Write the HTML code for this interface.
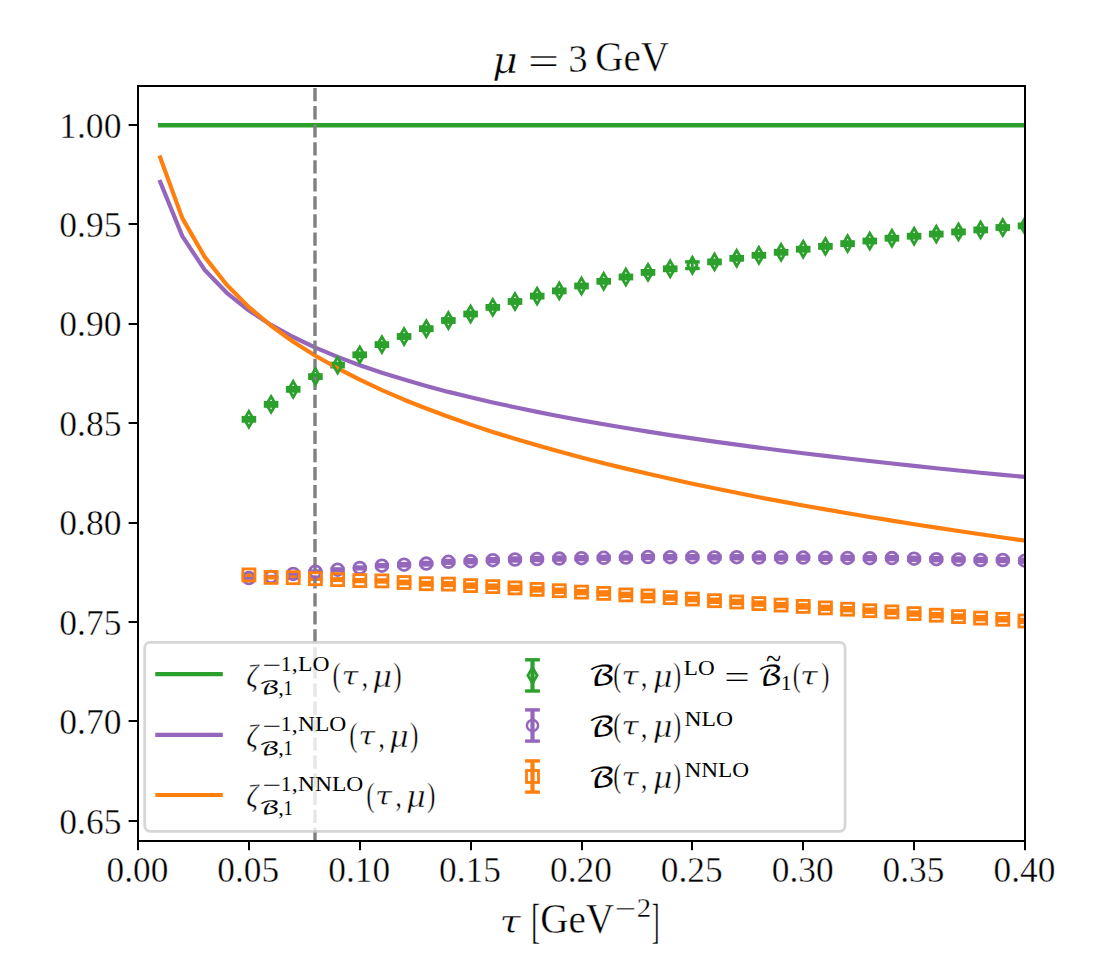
<!DOCTYPE html>
<html lang="en"><head><meta charset="utf-8"><title>zeta inverse vs flow time, mu = 3 GeV</title>
<style>html,body{margin:0;padding:0;background:#fff}svg{display:block}</style></head>
<body>
<svg width="1108" height="970" viewBox="0 0 1108 970">
<defs><clipPath id="ax"><rect x="138.0" y="86.0" width="887.0" height="755.0"/></clipPath></defs>
<rect width="1108" height="970" fill="#fff"/>
<g clip-path="url(#ax)">
<rect x="241.6" y="415.90" width="14.6" height="6.80" fill="#2ca02c"/>
<rect x="263.8" y="401.00" width="14.6" height="6.80" fill="#2ca02c"/>
<rect x="285.9" y="385.90" width="14.6" height="6.80" fill="#2ca02c"/>
<rect x="308.1" y="373.20" width="14.6" height="6.80" fill="#2ca02c"/>
<rect x="330.3" y="361.70" width="14.6" height="6.80" fill="#2ca02c"/>
<rect x="352.4" y="351.40" width="14.6" height="6.80" fill="#2ca02c"/>
<rect x="374.6" y="341.20" width="14.6" height="6.80" fill="#2ca02c"/>
<rect x="396.8" y="333.10" width="14.6" height="6.80" fill="#2ca02c"/>
<rect x="419.0" y="325.30" width="14.6" height="6.80" fill="#2ca02c"/>
<rect x="441.1" y="317.10" width="14.6" height="6.80" fill="#2ca02c"/>
<rect x="463.3" y="310.60" width="14.6" height="6.80" fill="#2ca02c"/>
<rect x="485.5" y="304.00" width="14.6" height="6.80" fill="#2ca02c"/>
<rect x="507.7" y="298.10" width="14.6" height="6.80" fill="#2ca02c"/>
<rect x="529.9" y="292.70" width="14.6" height="6.80" fill="#2ca02c"/>
<rect x="552.0" y="287.50" width="14.6" height="6.80" fill="#2ca02c"/>
<rect x="574.2" y="282.60" width="14.6" height="6.80" fill="#2ca02c"/>
<rect x="596.4" y="277.90" width="14.6" height="6.80" fill="#2ca02c"/>
<rect x="618.6" y="273.60" width="14.6" height="6.80" fill="#2ca02c"/>
<rect x="640.7" y="269.00" width="14.6" height="6.80" fill="#2ca02c"/>
<rect x="662.9" y="265.40" width="14.6" height="6.80" fill="#2ca02c"/>
<line x1="692.4" y1="261.9" x2="692.4" y2="268.5" stroke="#2ca02c" stroke-width="2.8"/><rect x="685.1" y="260.20" width="14.6" height="3.40" fill="#2ca02c"/><rect x="685.1" y="266.80" width="14.6" height="3.40" fill="#2ca02c"/>
<rect x="707.2" y="258.50" width="14.6" height="6.80" fill="#2ca02c"/>
<rect x="729.4" y="254.90" width="14.6" height="6.80" fill="#2ca02c"/>
<rect x="751.6" y="251.90" width="14.6" height="6.80" fill="#2ca02c"/>
<rect x="773.8" y="248.90" width="14.6" height="6.80" fill="#2ca02c"/>
<rect x="795.9" y="245.80" width="14.6" height="6.80" fill="#2ca02c"/>
<rect x="818.1" y="243.00" width="14.6" height="6.80" fill="#2ca02c"/>
<rect x="840.3" y="240.20" width="14.6" height="6.80" fill="#2ca02c"/>
<rect x="862.5" y="237.60" width="14.6" height="6.80" fill="#2ca02c"/>
<rect x="884.6" y="234.80" width="14.6" height="6.80" fill="#2ca02c"/>
<rect x="906.8" y="232.80" width="14.6" height="6.80" fill="#2ca02c"/>
<rect x="929.0" y="230.70" width="14.6" height="6.80" fill="#2ca02c"/>
<rect x="951.2" y="228.50" width="14.6" height="6.80" fill="#2ca02c"/>
<rect x="973.4" y="226.50" width="14.6" height="6.80" fill="#2ca02c"/>
<rect x="995.5" y="224.10" width="14.6" height="6.80" fill="#2ca02c"/>
<rect x="1017.7" y="222.50" width="14.6" height="6.80" fill="#2ca02c"/>
<rect x="241.9" y="576.05" width="14.0" height="4.00" fill="#9467bd"/>
<rect x="264.1" y="574.79" width="14.0" height="4.24" fill="#9467bd"/>
<rect x="286.2" y="571.62" width="14.0" height="4.48" fill="#9467bd"/>
<rect x="308.4" y="569.36" width="14.0" height="4.72" fill="#9467bd"/>
<rect x="330.6" y="567.20" width="14.0" height="4.96" fill="#9467bd"/>
<rect x="352.8" y="565.34" width="14.0" height="5.20" fill="#9467bd"/>
<rect x="374.9" y="562.96" width="14.0" height="5.44" fill="#9467bd"/>
<rect x="397.1" y="561.91" width="14.0" height="5.68" fill="#9467bd"/>
<rect x="419.3" y="560.69" width="14.0" height="5.92" fill="#9467bd"/>
<rect x="441.4" y="558.75" width="14.0" height="6.16" fill="#9467bd"/>
<rect x="463.6" y="557.98" width="14.0" height="6.40" fill="#9467bd"/>
<rect x="485.8" y="556.95" width="14.0" height="6.40" fill="#9467bd"/>
<rect x="508.0" y="556.29" width="14.0" height="6.40" fill="#9467bd"/>
<rect x="530.1" y="555.84" width="14.0" height="6.40" fill="#9467bd"/>
<rect x="552.3" y="555.36" width="14.0" height="6.40" fill="#9467bd"/>
<rect x="574.5" y="554.97" width="14.0" height="6.40" fill="#9467bd"/>
<rect x="596.7" y="554.58" width="14.0" height="6.40" fill="#9467bd"/>
<rect x="618.9" y="554.40" width="14.0" height="6.40" fill="#9467bd"/>
<rect x="641.0" y="553.82" width="14.0" height="6.40" fill="#9467bd"/>
<rect x="663.2" y="553.97" width="14.0" height="6.40" fill="#9467bd"/>
<rect x="685.4" y="554.01" width="14.0" height="6.40" fill="#9467bd"/>
<rect x="707.5" y="554.19" width="14.0" height="6.40" fill="#9467bd"/>
<rect x="729.7" y="554.03" width="14.0" height="6.40" fill="#9467bd"/>
<rect x="751.9" y="554.28" width="14.0" height="6.40" fill="#9467bd"/>
<rect x="774.1" y="554.44" width="14.0" height="6.40" fill="#9467bd"/>
<rect x="796.2" y="554.45" width="14.0" height="6.40" fill="#9467bd"/>
<rect x="818.4" y="554.63" width="14.0" height="6.40" fill="#9467bd"/>
<rect x="840.6" y="554.74" width="14.0" height="6.40" fill="#9467bd"/>
<rect x="862.8" y="554.96" width="14.0" height="6.40" fill="#9467bd"/>
<rect x="884.9" y="554.95" width="14.0" height="6.40" fill="#9467bd"/>
<rect x="907.1" y="555.54" width="14.0" height="6.40" fill="#9467bd"/>
<rect x="929.3" y="556.00" width="14.0" height="6.40" fill="#9467bd"/>
<rect x="951.5" y="556.32" width="14.0" height="6.40" fill="#9467bd"/>
<rect x="973.6" y="556.76" width="14.0" height="6.40" fill="#9467bd"/>
<rect x="995.8" y="556.82" width="14.0" height="6.40" fill="#9467bd"/>
<rect x="1018.0" y="557.49" width="14.0" height="6.40" fill="#9467bd"/>
<rect x="241.7" y="572.93" width="14.4" height="4.00" fill="#ff7f0e"/>
<rect x="263.9" y="575.29" width="14.4" height="4.24" fill="#ff7f0e"/>
<rect x="286.0" y="575.48" width="14.4" height="4.48" fill="#ff7f0e"/>
<rect x="308.2" y="576.34" width="14.4" height="4.72" fill="#ff7f0e"/>
<rect x="330.4" y="577.10" width="14.4" height="4.96" fill="#ff7f0e"/>
<rect x="352.6" y="578.00" width="14.4" height="5.20" fill="#ff7f0e"/>
<rect x="374.7" y="578.22" width="14.4" height="5.44" fill="#ff7f0e"/>
<rect x="396.9" y="579.63" width="14.4" height="5.68" fill="#ff7f0e"/>
<rect x="419.1" y="580.75" width="14.4" height="5.92" fill="#ff7f0e"/>
<rect x="441.2" y="581.06" width="14.4" height="6.16" fill="#ff7f0e"/>
<rect x="463.4" y="582.42" width="14.4" height="6.40" fill="#ff7f0e"/>
<rect x="485.6" y="583.45" width="14.4" height="6.40" fill="#ff7f0e"/>
<rect x="507.8" y="584.75" width="14.4" height="6.40" fill="#ff7f0e"/>
<rect x="529.9" y="586.18" width="14.4" height="6.40" fill="#ff7f0e"/>
<rect x="552.1" y="587.53" width="14.4" height="6.40" fill="#ff7f0e"/>
<rect x="574.3" y="588.89" width="14.4" height="6.40" fill="#ff7f0e"/>
<rect x="596.5" y="590.20" width="14.4" height="6.40" fill="#ff7f0e"/>
<rect x="618.6" y="591.65" width="14.4" height="6.40" fill="#ff7f0e"/>
<rect x="640.8" y="592.68" width="14.4" height="6.40" fill="#ff7f0e"/>
<rect x="663.0" y="594.36" width="14.4" height="6.40" fill="#ff7f0e"/>
<rect x="685.2" y="595.89" width="14.4" height="6.40" fill="#ff7f0e"/>
<rect x="707.3" y="597.53" width="14.4" height="6.40" fill="#ff7f0e"/>
<rect x="729.5" y="598.78" width="14.4" height="6.40" fill="#ff7f0e"/>
<rect x="751.7" y="600.41" width="14.4" height="6.40" fill="#ff7f0e"/>
<rect x="773.9" y="601.91" width="14.4" height="6.40" fill="#ff7f0e"/>
<rect x="796.0" y="603.23" width="14.4" height="6.40" fill="#ff7f0e"/>
<rect x="818.2" y="604.68" width="14.4" height="6.40" fill="#ff7f0e"/>
<rect x="840.4" y="606.04" width="14.4" height="6.40" fill="#ff7f0e"/>
<rect x="862.6" y="607.47" width="14.4" height="6.40" fill="#ff7f0e"/>
<rect x="884.7" y="608.66" width="14.4" height="6.40" fill="#ff7f0e"/>
<rect x="906.9" y="610.40" width="14.4" height="6.40" fill="#ff7f0e"/>
<rect x="929.1" y="611.99" width="14.4" height="6.40" fill="#ff7f0e"/>
<rect x="951.3" y="613.42" width="14.4" height="6.40" fill="#ff7f0e"/>
<rect x="973.4" y="614.95" width="14.4" height="6.40" fill="#ff7f0e"/>
<rect x="995.6" y="616.08" width="14.4" height="6.40" fill="#ff7f0e"/>
<rect x="1017.8" y="617.79" width="14.4" height="6.40" fill="#ff7f0e"/>
<polyline points="160.2,125.3 1025.0,125.3" fill="none" stroke="#2ca02c" stroke-width="4.4" stroke-linecap="square" stroke-linejoin="round"/>
<polyline points="160.2,181.9 182.3,236.1 204.5,269.7 226.7,292.8 248.9,310.5 271.0,324.9 293.2,337.0 315.4,347.6 337.6,356.9 359.8,365.2 381.9,372.7 404.1,379.6 426.3,386.0 448.4,391.9 470.6,397.3 492.8,402.5 515.0,407.3 537.1,411.9 559.3,416.3 581.5,420.4 603.7,424.3 625.9,428.0 648.0,431.6 670.2,435.1 692.4,438.4 714.5,441.6 736.7,444.6 758.9,447.6 781.1,450.5 803.2,453.2 825.4,455.9 847.6,458.5 869.8,461.0 892.0,463.5 914.1,465.9 936.3,468.2 958.5,470.5 980.6,472.7 1002.8,474.8 1025.0,476.9" fill="none" stroke="#9467bd" stroke-width="4.17" stroke-linecap="square" stroke-linejoin="round"/>
<polyline points="160.2,157.5 182.3,218.1 204.5,256.6 226.7,284.7 248.9,307.1 271.0,325.7 293.2,341.7 315.4,355.8 337.6,368.3 359.8,379.7 381.9,390.1 404.1,399.7 426.3,408.5 448.4,416.8 470.6,424.6 492.8,431.9 515.0,438.8 537.1,445.3 559.3,451.5 581.5,457.5 603.7,463.2 625.9,468.6 648.0,473.8 670.2,478.8 692.4,483.7 714.5,488.3 736.7,492.8 758.9,497.2 781.1,501.4 803.2,505.5 825.4,509.4 847.6,513.3 869.8,517.0 892.0,520.6 914.1,524.2 936.3,527.6 958.5,531.0 980.6,534.3 1002.8,537.5 1025.0,540.6" fill="none" stroke="#ff7f0e" stroke-width="4.17" stroke-linecap="square" stroke-linejoin="round"/>
<line x1="315.0" y1="841.0" x2="315.0" y2="86.0" stroke="#808080" stroke-width="3.4" stroke-dasharray="13.3 4.74"/>
<path d="M248.9 411.4L253.5 419.3L248.9 427.2L244.3 419.3Z" fill="none" stroke="#2ca02c" stroke-width="2.8" stroke-linejoin="miter"/>
<path d="M271.1 396.5L275.7 404.4L271.1 412.3L266.4 404.4Z" fill="none" stroke="#2ca02c" stroke-width="2.8" stroke-linejoin="miter"/>
<path d="M293.2 381.4L297.8 389.3L293.2 397.2L288.6 389.3Z" fill="none" stroke="#2ca02c" stroke-width="2.8" stroke-linejoin="miter"/>
<path d="M315.4 368.7L320.0 376.6L315.4 384.5L310.8 376.6Z" fill="none" stroke="#2ca02c" stroke-width="2.8" stroke-linejoin="miter"/>
<path d="M337.6 357.2L342.2 365.1L337.6 373.0L333.0 365.1Z" fill="none" stroke="#2ca02c" stroke-width="2.8" stroke-linejoin="miter"/>
<path d="M359.8 346.9L364.4 354.8L359.8 362.7L355.1 354.8Z" fill="none" stroke="#2ca02c" stroke-width="2.8" stroke-linejoin="miter"/>
<path d="M381.9 336.7L386.5 344.6L381.9 352.5L377.3 344.6Z" fill="none" stroke="#2ca02c" stroke-width="2.8" stroke-linejoin="miter"/>
<path d="M404.1 328.6L408.7 336.5L404.1 344.4L399.5 336.5Z" fill="none" stroke="#2ca02c" stroke-width="2.8" stroke-linejoin="miter"/>
<path d="M426.3 320.8L430.9 328.7L426.3 336.6L421.7 328.7Z" fill="none" stroke="#2ca02c" stroke-width="2.8" stroke-linejoin="miter"/>
<path d="M448.4 312.6L453.1 320.5L448.4 328.4L443.8 320.5Z" fill="none" stroke="#2ca02c" stroke-width="2.8" stroke-linejoin="miter"/>
<path d="M470.6 306.1L475.2 314.0L470.6 321.9L466.0 314.0Z" fill="none" stroke="#2ca02c" stroke-width="2.8" stroke-linejoin="miter"/>
<path d="M492.8 299.5L497.4 307.4L492.8 315.3L488.2 307.4Z" fill="none" stroke="#2ca02c" stroke-width="2.8" stroke-linejoin="miter"/>
<path d="M515.0 293.6L519.6 301.5L515.0 309.4L510.4 301.5Z" fill="none" stroke="#2ca02c" stroke-width="2.8" stroke-linejoin="miter"/>
<path d="M537.1 288.2L541.8 296.1L537.1 304.0L532.5 296.1Z" fill="none" stroke="#2ca02c" stroke-width="2.8" stroke-linejoin="miter"/>
<path d="M559.3 283.0L563.9 290.9L559.3 298.8L554.7 290.9Z" fill="none" stroke="#2ca02c" stroke-width="2.8" stroke-linejoin="miter"/>
<path d="M581.5 278.1L586.1 286.0L581.5 293.9L576.9 286.0Z" fill="none" stroke="#2ca02c" stroke-width="2.8" stroke-linejoin="miter"/>
<path d="M603.7 273.4L608.3 281.3L603.7 289.2L599.1 281.3Z" fill="none" stroke="#2ca02c" stroke-width="2.8" stroke-linejoin="miter"/>
<path d="M625.9 269.1L630.5 277.0L625.9 284.9L621.2 277.0Z" fill="none" stroke="#2ca02c" stroke-width="2.8" stroke-linejoin="miter"/>
<path d="M648.0 264.5L652.6 272.4L648.0 280.3L643.4 272.4Z" fill="none" stroke="#2ca02c" stroke-width="2.8" stroke-linejoin="miter"/>
<path d="M670.2 260.9L674.8 268.8L670.2 276.7L665.6 268.8Z" fill="none" stroke="#2ca02c" stroke-width="2.8" stroke-linejoin="miter"/>
<path d="M692.4 257.3L697.0 265.2L692.4 273.1L687.8 265.2Z" fill="none" stroke="#2ca02c" stroke-width="2.8" stroke-linejoin="miter"/>
<path d="M714.5 254.0L719.1 261.9L714.5 269.8L709.9 261.9Z" fill="none" stroke="#2ca02c" stroke-width="2.8" stroke-linejoin="miter"/>
<path d="M736.7 250.4L741.3 258.3L736.7 266.2L732.1 258.3Z" fill="none" stroke="#2ca02c" stroke-width="2.8" stroke-linejoin="miter"/>
<path d="M758.9 247.4L763.5 255.3L758.9 263.2L754.3 255.3Z" fill="none" stroke="#2ca02c" stroke-width="2.8" stroke-linejoin="miter"/>
<path d="M781.1 244.4L785.7 252.3L781.1 260.2L776.5 252.3Z" fill="none" stroke="#2ca02c" stroke-width="2.8" stroke-linejoin="miter"/>
<path d="M803.2 241.3L807.8 249.2L803.2 257.1L798.6 249.2Z" fill="none" stroke="#2ca02c" stroke-width="2.8" stroke-linejoin="miter"/>
<path d="M825.4 238.5L830.0 246.4L825.4 254.3L820.8 246.4Z" fill="none" stroke="#2ca02c" stroke-width="2.8" stroke-linejoin="miter"/>
<path d="M847.6 235.7L852.2 243.6L847.6 251.5L843.0 243.6Z" fill="none" stroke="#2ca02c" stroke-width="2.8" stroke-linejoin="miter"/>
<path d="M869.8 233.1L874.4 241.0L869.8 248.9L865.2 241.0Z" fill="none" stroke="#2ca02c" stroke-width="2.8" stroke-linejoin="miter"/>
<path d="M891.9 230.3L896.5 238.2L891.9 246.1L887.3 238.2Z" fill="none" stroke="#2ca02c" stroke-width="2.8" stroke-linejoin="miter"/>
<path d="M914.1 228.3L918.7 236.2L914.1 244.1L909.5 236.2Z" fill="none" stroke="#2ca02c" stroke-width="2.8" stroke-linejoin="miter"/>
<path d="M936.3 226.2L940.9 234.1L936.3 242.0L931.7 234.1Z" fill="none" stroke="#2ca02c" stroke-width="2.8" stroke-linejoin="miter"/>
<path d="M958.5 224.0L963.1 231.9L958.5 239.8L953.9 231.9Z" fill="none" stroke="#2ca02c" stroke-width="2.8" stroke-linejoin="miter"/>
<path d="M980.6 222.0L985.2 229.9L980.6 237.8L976.0 229.9Z" fill="none" stroke="#2ca02c" stroke-width="2.8" stroke-linejoin="miter"/>
<path d="M1002.8 219.6L1007.4 227.5L1002.8 235.4L998.2 227.5Z" fill="none" stroke="#2ca02c" stroke-width="2.8" stroke-linejoin="miter"/>
<path d="M1025.0 218.0L1029.6 225.9L1025.0 233.8L1020.4 225.9Z" fill="none" stroke="#2ca02c" stroke-width="2.8" stroke-linejoin="miter"/>
<circle cx="248.9" cy="578.0" r="5.85" fill="none" stroke="#9467bd" stroke-width="2.8"/>
<circle cx="271.1" cy="576.9" r="5.85" fill="none" stroke="#9467bd" stroke-width="2.8"/>
<circle cx="293.2" cy="573.9" r="5.85" fill="none" stroke="#9467bd" stroke-width="2.8"/>
<circle cx="315.4" cy="571.7" r="5.85" fill="none" stroke="#9467bd" stroke-width="2.8"/>
<circle cx="337.6" cy="569.7" r="5.85" fill="none" stroke="#9467bd" stroke-width="2.8"/>
<circle cx="359.8" cy="567.9" r="5.85" fill="none" stroke="#9467bd" stroke-width="2.8"/>
<circle cx="381.9" cy="565.7" r="5.85" fill="none" stroke="#9467bd" stroke-width="2.8"/>
<circle cx="404.1" cy="564.7" r="5.85" fill="none" stroke="#9467bd" stroke-width="2.8"/>
<circle cx="426.3" cy="563.6" r="5.85" fill="none" stroke="#9467bd" stroke-width="2.8"/>
<circle cx="448.4" cy="561.8" r="5.85" fill="none" stroke="#9467bd" stroke-width="2.8"/>
<circle cx="470.6" cy="561.2" r="5.85" fill="none" stroke="#9467bd" stroke-width="2.8"/>
<circle cx="492.8" cy="560.2" r="5.85" fill="none" stroke="#9467bd" stroke-width="2.8"/>
<circle cx="515.0" cy="559.5" r="5.85" fill="none" stroke="#9467bd" stroke-width="2.8"/>
<circle cx="537.1" cy="559.0" r="5.85" fill="none" stroke="#9467bd" stroke-width="2.8"/>
<circle cx="559.3" cy="558.6" r="5.85" fill="none" stroke="#9467bd" stroke-width="2.8"/>
<circle cx="581.5" cy="558.2" r="5.85" fill="none" stroke="#9467bd" stroke-width="2.8"/>
<circle cx="603.7" cy="557.8" r="5.85" fill="none" stroke="#9467bd" stroke-width="2.8"/>
<circle cx="625.9" cy="557.6" r="5.85" fill="none" stroke="#9467bd" stroke-width="2.8"/>
<circle cx="648.0" cy="557.0" r="5.85" fill="none" stroke="#9467bd" stroke-width="2.8"/>
<circle cx="670.2" cy="557.2" r="5.85" fill="none" stroke="#9467bd" stroke-width="2.8"/>
<circle cx="692.4" cy="557.2" r="5.85" fill="none" stroke="#9467bd" stroke-width="2.8"/>
<circle cx="714.5" cy="557.4" r="5.85" fill="none" stroke="#9467bd" stroke-width="2.8"/>
<circle cx="736.7" cy="557.2" r="5.85" fill="none" stroke="#9467bd" stroke-width="2.8"/>
<circle cx="758.9" cy="557.5" r="5.85" fill="none" stroke="#9467bd" stroke-width="2.8"/>
<circle cx="781.1" cy="557.6" r="5.85" fill="none" stroke="#9467bd" stroke-width="2.8"/>
<circle cx="803.2" cy="557.6" r="5.85" fill="none" stroke="#9467bd" stroke-width="2.8"/>
<circle cx="825.4" cy="557.8" r="5.85" fill="none" stroke="#9467bd" stroke-width="2.8"/>
<circle cx="847.6" cy="557.9" r="5.85" fill="none" stroke="#9467bd" stroke-width="2.8"/>
<circle cx="869.8" cy="558.2" r="5.85" fill="none" stroke="#9467bd" stroke-width="2.8"/>
<circle cx="891.9" cy="558.1" r="5.85" fill="none" stroke="#9467bd" stroke-width="2.8"/>
<circle cx="914.1" cy="558.7" r="5.85" fill="none" stroke="#9467bd" stroke-width="2.8"/>
<circle cx="936.3" cy="559.2" r="5.85" fill="none" stroke="#9467bd" stroke-width="2.8"/>
<circle cx="958.5" cy="559.5" r="5.85" fill="none" stroke="#9467bd" stroke-width="2.8"/>
<circle cx="980.6" cy="560.0" r="5.85" fill="none" stroke="#9467bd" stroke-width="2.8"/>
<circle cx="1002.8" cy="560.0" r="5.85" fill="none" stroke="#9467bd" stroke-width="2.8"/>
<circle cx="1025.0" cy="560.7" r="5.85" fill="none" stroke="#9467bd" stroke-width="2.8"/>
<rect x="242.9" y="568.9" width="12.0" height="12.0" fill="none" stroke="#ff7f0e" stroke-width="2.8"/>
<rect x="265.1" y="571.4" width="12.0" height="12.0" fill="none" stroke="#ff7f0e" stroke-width="2.8"/>
<rect x="287.2" y="571.7" width="12.0" height="12.0" fill="none" stroke="#ff7f0e" stroke-width="2.8"/>
<rect x="309.4" y="572.7" width="12.0" height="12.0" fill="none" stroke="#ff7f0e" stroke-width="2.8"/>
<rect x="331.6" y="573.6" width="12.0" height="12.0" fill="none" stroke="#ff7f0e" stroke-width="2.8"/>
<rect x="353.8" y="574.6" width="12.0" height="12.0" fill="none" stroke="#ff7f0e" stroke-width="2.8"/>
<rect x="375.9" y="574.9" width="12.0" height="12.0" fill="none" stroke="#ff7f0e" stroke-width="2.8"/>
<rect x="398.1" y="576.5" width="12.0" height="12.0" fill="none" stroke="#ff7f0e" stroke-width="2.8"/>
<rect x="420.3" y="577.7" width="12.0" height="12.0" fill="none" stroke="#ff7f0e" stroke-width="2.8"/>
<rect x="442.4" y="578.1" width="12.0" height="12.0" fill="none" stroke="#ff7f0e" stroke-width="2.8"/>
<rect x="464.6" y="579.6" width="12.0" height="12.0" fill="none" stroke="#ff7f0e" stroke-width="2.8"/>
<rect x="486.8" y="580.6" width="12.0" height="12.0" fill="none" stroke="#ff7f0e" stroke-width="2.8"/>
<rect x="509.0" y="581.9" width="12.0" height="12.0" fill="none" stroke="#ff7f0e" stroke-width="2.8"/>
<rect x="531.1" y="583.4" width="12.0" height="12.0" fill="none" stroke="#ff7f0e" stroke-width="2.8"/>
<rect x="553.3" y="584.7" width="12.0" height="12.0" fill="none" stroke="#ff7f0e" stroke-width="2.8"/>
<rect x="575.5" y="586.1" width="12.0" height="12.0" fill="none" stroke="#ff7f0e" stroke-width="2.8"/>
<rect x="597.7" y="587.4" width="12.0" height="12.0" fill="none" stroke="#ff7f0e" stroke-width="2.8"/>
<rect x="619.9" y="588.9" width="12.0" height="12.0" fill="none" stroke="#ff7f0e" stroke-width="2.8"/>
<rect x="642.0" y="589.9" width="12.0" height="12.0" fill="none" stroke="#ff7f0e" stroke-width="2.8"/>
<rect x="664.2" y="591.6" width="12.0" height="12.0" fill="none" stroke="#ff7f0e" stroke-width="2.8"/>
<rect x="686.4" y="593.1" width="12.0" height="12.0" fill="none" stroke="#ff7f0e" stroke-width="2.8"/>
<rect x="708.5" y="594.7" width="12.0" height="12.0" fill="none" stroke="#ff7f0e" stroke-width="2.8"/>
<rect x="730.7" y="596.0" width="12.0" height="12.0" fill="none" stroke="#ff7f0e" stroke-width="2.8"/>
<rect x="752.9" y="597.6" width="12.0" height="12.0" fill="none" stroke="#ff7f0e" stroke-width="2.8"/>
<rect x="775.1" y="599.1" width="12.0" height="12.0" fill="none" stroke="#ff7f0e" stroke-width="2.8"/>
<rect x="797.2" y="600.4" width="12.0" height="12.0" fill="none" stroke="#ff7f0e" stroke-width="2.8"/>
<rect x="819.4" y="601.9" width="12.0" height="12.0" fill="none" stroke="#ff7f0e" stroke-width="2.8"/>
<rect x="841.6" y="603.2" width="12.0" height="12.0" fill="none" stroke="#ff7f0e" stroke-width="2.8"/>
<rect x="863.8" y="604.7" width="12.0" height="12.0" fill="none" stroke="#ff7f0e" stroke-width="2.8"/>
<rect x="885.9" y="605.9" width="12.0" height="12.0" fill="none" stroke="#ff7f0e" stroke-width="2.8"/>
<rect x="908.1" y="607.6" width="12.0" height="12.0" fill="none" stroke="#ff7f0e" stroke-width="2.8"/>
<rect x="930.3" y="609.2" width="12.0" height="12.0" fill="none" stroke="#ff7f0e" stroke-width="2.8"/>
<rect x="952.5" y="610.6" width="12.0" height="12.0" fill="none" stroke="#ff7f0e" stroke-width="2.8"/>
<rect x="974.6" y="612.1" width="12.0" height="12.0" fill="none" stroke="#ff7f0e" stroke-width="2.8"/>
<rect x="996.8" y="613.3" width="12.0" height="12.0" fill="none" stroke="#ff7f0e" stroke-width="2.8"/>
<rect x="1019.0" y="615.0" width="12.0" height="12.0" fill="none" stroke="#ff7f0e" stroke-width="2.8"/>
</g>
<rect x="138.0" y="86.0" width="887.0" height="755.0" fill="none" stroke="#000" stroke-width="2"/>
<rect x="137" y="841.0" width="2" height="9.2" fill="#000"/>
<text transform="translate(106.49 881.70)" font-family="'Liberation Serif','DejaVu Serif',serif" font-size="35.34" fill="#000" stroke="#fff" stroke-width="0.4">0.00</text>
<rect x="248" y="841.0" width="2" height="9.2" fill="#000"/>
<text transform="translate(217.36 881.70)" font-family="'Liberation Serif','DejaVu Serif',serif" font-size="35.34" fill="#000" stroke="#fff" stroke-width="0.4">0.05</text>
<rect x="359" y="841.0" width="2" height="9.2" fill="#000"/>
<text transform="translate(328.24 881.70)" font-family="'Liberation Serif','DejaVu Serif',serif" font-size="35.34" fill="#000" stroke="#fff" stroke-width="0.4">0.10</text>
<rect x="470" y="841.0" width="2" height="9.2" fill="#000"/>
<text transform="translate(439.11 881.70)" font-family="'Liberation Serif','DejaVu Serif',serif" font-size="35.34" fill="#000" stroke="#fff" stroke-width="0.4">0.15</text>
<rect x="581" y="841.0" width="2" height="9.2" fill="#000"/>
<text transform="translate(549.99 881.70)" font-family="'Liberation Serif','DejaVu Serif',serif" font-size="35.34" fill="#000" stroke="#fff" stroke-width="0.4">0.20</text>
<rect x="691" y="841.0" width="2" height="9.2" fill="#000"/>
<text transform="translate(660.86 881.70)" font-family="'Liberation Serif','DejaVu Serif',serif" font-size="35.34" fill="#000" stroke="#fff" stroke-width="0.4">0.25</text>
<rect x="802" y="841.0" width="2" height="9.2" fill="#000"/>
<text transform="translate(771.74 881.70)" font-family="'Liberation Serif','DejaVu Serif',serif" font-size="35.34" fill="#000" stroke="#fff" stroke-width="0.4">0.30</text>
<rect x="913" y="841.0" width="2" height="9.2" fill="#000"/>
<text transform="translate(882.61 881.70)" font-family="'Liberation Serif','DejaVu Serif',serif" font-size="35.34" fill="#000" stroke="#fff" stroke-width="0.4">0.35</text>
<rect x="1024" y="841.0" width="2" height="9.2" fill="#000"/>
<text transform="translate(993.49 881.70)" font-family="'Liberation Serif','DejaVu Serif',serif" font-size="35.34" fill="#000" stroke="#fff" stroke-width="0.4">0.40</text>
<rect x="128.6" y="820" width="9.4" height="2" fill="#000"/>
<text transform="translate(59.28 833.62) scale(1.020 1)" font-family="'Liberation Serif','DejaVu Serif',serif" font-size="34.89" fill="#000" stroke="#fff" stroke-width="0.4">0.65</text>
<rect x="128.6" y="720" width="9.4" height="2" fill="#000"/>
<text transform="translate(59.29 734.19) scale(1.019 1)" font-family="'Liberation Serif','DejaVu Serif',serif" font-size="34.89" fill="#000" stroke="#fff" stroke-width="0.4">0.70</text>
<rect x="128.6" y="621" width="9.4" height="2" fill="#000"/>
<text transform="translate(59.28 634.76) scale(1.020 1)" font-family="'Liberation Serif','DejaVu Serif',serif" font-size="34.89" fill="#000" stroke="#fff" stroke-width="0.4">0.75</text>
<rect x="128.6" y="522" width="9.4" height="2" fill="#000"/>
<text transform="translate(59.29 535.33) scale(1.019 1)" font-family="'Liberation Serif','DejaVu Serif',serif" font-size="34.89" fill="#000" stroke="#fff" stroke-width="0.4">0.80</text>
<rect x="128.6" y="422" width="9.4" height="2" fill="#000"/>
<text transform="translate(59.28 435.90) scale(1.020 1)" font-family="'Liberation Serif','DejaVu Serif',serif" font-size="34.89" fill="#000" stroke="#fff" stroke-width="0.4">0.85</text>
<rect x="128.6" y="323" width="9.4" height="2" fill="#000"/>
<text transform="translate(59.29 336.47) scale(1.019 1)" font-family="'Liberation Serif','DejaVu Serif',serif" font-size="34.89" fill="#000" stroke="#fff" stroke-width="0.4">0.90</text>
<rect x="128.6" y="223" width="9.4" height="2" fill="#000"/>
<text transform="translate(59.28 237.04) scale(1.020 1)" font-family="'Liberation Serif','DejaVu Serif',serif" font-size="34.89" fill="#000" stroke="#fff" stroke-width="0.4">0.95</text>
<rect x="128.6" y="124" width="9.4" height="2" fill="#000"/>
<text transform="translate(59.11 137.61) scale(1.022 1)" font-family="'Liberation Serif','DejaVu Serif',serif" font-size="34.89" fill="#000" stroke="#fff" stroke-width="0.4">1.00</text>
<text transform="translate(492.29 72.96) scale(1.070 1)" font-family="'DejaVu Serif','Liberation Serif',serif" font-style="italic" font-size="36.72" fill="#000" stroke="#fff" stroke-width="0.45">μ</text>
<text transform="translate(528.10 74.85) scale(1.412 1)" font-family="'Liberation Serif','DejaVu Serif',serif" font-size="39.00" fill="#000" stroke="#fff" stroke-width="0.25">=</text>
<text transform="translate(568.18 71.71) scale(0.965 1)" font-family="'Liberation Serif','DejaVu Serif',serif" font-size="40.19" fill="#000" stroke="#fff" stroke-width="0.45">3</text>
<text transform="translate(595.34 71.37) scale(0.945 1)" font-family="'Liberation Serif','DejaVu Serif',serif" font-size="41.34" fill="#000" stroke="#fff" stroke-width="0.45">GeV</text>
<text transform="translate(499.52 932.86) scale(1.183 1)" font-family="'DejaVu Serif','Liberation Serif',serif" font-style="italic" font-size="32.30" fill="#000" stroke="#fff" stroke-width="0.45">τ</text>
<text transform="translate(531.20 937.33) scale(0.541 1)" font-family="'Liberation Serif','DejaVu Serif',serif" font-size="48.33" fill="#000" stroke="#fff" stroke-width="0.45">[</text>
<text transform="translate(540.13 933.37) scale(0.949 1)" font-family="'Liberation Serif','DejaVu Serif',serif" font-size="41.34" fill="#000" stroke="#fff" stroke-width="0.45">GeV</text>
<text transform="translate(614.41 918.46) scale(1.418 1)" font-family="'Liberation Serif','DejaVu Serif',serif" font-size="27.30" fill="#000" stroke="#fff" stroke-width="0.4">−</text>
<text transform="translate(636.68 916.50) scale(1.069 1)" font-family="'Liberation Serif','DejaVu Serif',serif" font-size="26.88" fill="#000" stroke="#fff" stroke-width="0.3">2</text>
<text transform="translate(651.81 937.33) scale(0.476 1)" font-family="'Liberation Serif','DejaVu Serif',serif" font-size="48.33" fill="#000" stroke="#fff" stroke-width="0.45">]</text>
<rect x="144.7" y="642.4" width="700.4" height="188.9" rx="5.5" ry="5.5" fill="#fff" fill-opacity="0.8" stroke="#ccc" stroke-opacity="0.8" stroke-width="2.8"/>
<line x1="155.3" y1="674.1" x2="222.8" y2="674.1" stroke="#2ca02c" stroke-width="4.17"/>
<line x1="155.3" y1="734.9" x2="222.8" y2="734.9" stroke="#9467bd" stroke-width="4.17"/>
<line x1="155.3" y1="795.0" x2="222.8" y2="795.0" stroke="#ff7f0e" stroke-width="4.17"/>
<line x1="532.5" y1="659.8" x2="532.5" y2="691.0" stroke="#2ca02c" stroke-width="4.17"/>
<rect x="525.1" y="658.1" width="14.8" height="3.4" fill="#2ca02c"/>
<rect x="525.1" y="689.3" width="14.8" height="3.4" fill="#2ca02c"/>
<path d="M532.5 667.5L537.1 675.4L532.5 683.3L527.9 675.4Z" fill="none" stroke="#2ca02c" stroke-width="2.8"/>
<line x1="532.5" y1="709.9" x2="532.5" y2="741.1" stroke="#9467bd" stroke-width="4.17"/>
<rect x="525.1" y="708.2" width="14.8" height="3.4" fill="#9467bd"/>
<rect x="525.1" y="739.4" width="14.8" height="3.4" fill="#9467bd"/>
<circle cx="532.5" cy="725.5" r="5.6" fill="none" stroke="#9467bd" stroke-width="2.5"/>
<line x1="532.5" y1="760.9" x2="532.5" y2="792.1" stroke="#ff7f0e" stroke-width="4.17"/>
<rect x="525.1" y="759.2" width="14.8" height="3.4" fill="#ff7f0e"/>
<rect x="525.1" y="790.4" width="14.8" height="3.4" fill="#ff7f0e"/>
<rect x="526.5" y="770.5" width="12" height="12" fill="none" stroke="#ff7f0e" stroke-width="2.8"/>
<text transform="translate(246.21 686.78) scale(0.902 1)" font-family="'Liberation Serif','DejaVu Serif',serif" font-style="italic" font-size="32.11" fill="#000" stroke="#fff" stroke-width="0.4">ζ</text>
<text transform="translate(262.40 672.47) scale(1.568 1)" font-family="'Liberation Serif','DejaVu Serif',serif" font-size="21.00" fill="#000">−</text>
<text transform="translate(281.01 670.80) scale(0.995 1)" font-family="'Liberation Serif','DejaVu Serif',serif" font-size="20.90" fill="#000">1</text>
<text transform="translate(291.74 671.25) scale(1.084 1)" font-family="'Liberation Serif','DejaVu Serif',serif" font-size="21.80" fill="#000">,</text>
<text transform="translate(298.06 670.79) scale(1.098 1)" font-family="'Liberation Serif','DejaVu Serif',serif" font-size="21.43" fill="#000">LO</text>
<text transform="translate(258.97 694.39) scale(1.451 1)" font-family="'DejaVu Math TeX Gyre','DejaVu Serif',serif" font-size="17.85" fill="#000" stroke="#000" stroke-width="0.1">ℬ</text>
<text transform="translate(278.19 695.05) scale(1.022 1)" font-family="'Liberation Serif','DejaVu Serif',serif" font-size="21.80" fill="#000">,</text>
<text transform="translate(283.61 694.60) scale(0.886 1)" font-family="'Liberation Serif','DejaVu Serif',serif" font-size="20.90" fill="#000">1</text>
<text transform="translate(332.44 685.95) scale(0.734 1)" font-family="'Liberation Serif','DejaVu Serif',serif" font-size="34.08" fill="#000" stroke="#fff" stroke-width="0.45">(</text>
<text transform="translate(341.42 684.97) scale(1.154 1)" font-family="'DejaVu Serif','Liberation Serif',serif" font-style="italic" font-size="26.52" fill="#000" stroke="#fff" stroke-width="0.45">τ</text>
<text transform="translate(361.69 686.41) scale(0.802 1)" font-family="'Liberation Serif','DejaVu Serif',serif" font-size="31.15" fill="#000" stroke="#fff" stroke-width="0.3">,</text>
<text transform="translate(372.29 686.91) scale(1.007 1)" font-family="'DejaVu Serif','Liberation Serif',serif" font-style="italic" font-size="30.26" fill="#000" stroke="#fff" stroke-width="0.45">μ</text>
<text transform="translate(393.22 685.95) scale(0.745 1)" font-family="'Liberation Serif','DejaVu Serif',serif" font-size="34.08" fill="#000" stroke="#fff" stroke-width="0.45">)</text>
<text transform="translate(246.21 747.08) scale(0.902 1)" font-family="'Liberation Serif','DejaVu Serif',serif" font-style="italic" font-size="32.11" fill="#000" stroke="#fff" stroke-width="0.4">ζ</text>
<text transform="translate(262.40 732.77) scale(1.568 1)" font-family="'Liberation Serif','DejaVu Serif',serif" font-size="21.00" fill="#000">−</text>
<text transform="translate(281.01 731.10) scale(0.995 1)" font-family="'Liberation Serif','DejaVu Serif',serif" font-size="20.90" fill="#000">1</text>
<text transform="translate(291.74 731.55) scale(1.084 1)" font-family="'Liberation Serif','DejaVu Serif',serif" font-size="21.80" fill="#000">,</text>
<text transform="translate(298.06 731.09) scale(1.096 1)" font-family="'Liberation Serif','DejaVu Serif',serif" font-size="21.43" fill="#000">NLO</text>
<text transform="translate(258.97 754.69) scale(1.451 1)" font-family="'DejaVu Math TeX Gyre','DejaVu Serif',serif" font-size="17.85" fill="#000" stroke="#000" stroke-width="0.1">ℬ</text>
<text transform="translate(278.19 755.35) scale(1.022 1)" font-family="'Liberation Serif','DejaVu Serif',serif" font-size="21.80" fill="#000">,</text>
<text transform="translate(283.61 754.90) scale(0.886 1)" font-family="'Liberation Serif','DejaVu Serif',serif" font-size="20.90" fill="#000">1</text>
<text transform="translate(349.24 746.25) scale(0.734 1)" font-family="'Liberation Serif','DejaVu Serif',serif" font-size="34.08" fill="#000" stroke="#fff" stroke-width="0.45">(</text>
<text transform="translate(358.22 745.27) scale(1.154 1)" font-family="'DejaVu Serif','Liberation Serif',serif" font-style="italic" font-size="26.52" fill="#000" stroke="#fff" stroke-width="0.45">τ</text>
<text transform="translate(378.49 746.71) scale(0.802 1)" font-family="'Liberation Serif','DejaVu Serif',serif" font-size="31.15" fill="#000" stroke="#fff" stroke-width="0.3">,</text>
<text transform="translate(389.09 747.21) scale(1.007 1)" font-family="'DejaVu Serif','Liberation Serif',serif" font-style="italic" font-size="30.26" fill="#000" stroke="#fff" stroke-width="0.45">μ</text>
<text transform="translate(410.02 746.25) scale(0.745 1)" font-family="'Liberation Serif','DejaVu Serif',serif" font-size="34.08" fill="#000" stroke="#fff" stroke-width="0.45">)</text>
<text transform="translate(246.21 806.78) scale(0.902 1)" font-family="'Liberation Serif','DejaVu Serif',serif" font-style="italic" font-size="32.11" fill="#000" stroke="#fff" stroke-width="0.4">ζ</text>
<text transform="translate(262.40 792.47) scale(1.568 1)" font-family="'Liberation Serif','DejaVu Serif',serif" font-size="21.00" fill="#000">−</text>
<text transform="translate(281.01 790.80) scale(0.995 1)" font-family="'Liberation Serif','DejaVu Serif',serif" font-size="20.90" fill="#000">1</text>
<text transform="translate(291.74 791.25) scale(1.084 1)" font-family="'Liberation Serif','DejaVu Serif',serif" font-size="21.80" fill="#000">,</text>
<text transform="translate(298.06 790.79) scale(1.096 1)" font-family="'Liberation Serif','DejaVu Serif',serif" font-size="21.43" fill="#000">NNLO</text>
<text transform="translate(258.97 814.39) scale(1.451 1)" font-family="'DejaVu Math TeX Gyre','DejaVu Serif',serif" font-size="17.85" fill="#000" stroke="#000" stroke-width="0.1">ℬ</text>
<text transform="translate(278.19 815.05) scale(1.022 1)" font-family="'Liberation Serif','DejaVu Serif',serif" font-size="21.80" fill="#000">,</text>
<text transform="translate(283.61 814.60) scale(0.886 1)" font-family="'Liberation Serif','DejaVu Serif',serif" font-size="20.90" fill="#000">1</text>
<text transform="translate(366.14 805.95) scale(0.734 1)" font-family="'Liberation Serif','DejaVu Serif',serif" font-size="34.08" fill="#000" stroke="#fff" stroke-width="0.45">(</text>
<text transform="translate(375.12 804.97) scale(1.154 1)" font-family="'DejaVu Serif','Liberation Serif',serif" font-style="italic" font-size="26.52" fill="#000" stroke="#fff" stroke-width="0.45">τ</text>
<text transform="translate(395.39 806.41) scale(0.802 1)" font-family="'Liberation Serif','DejaVu Serif',serif" font-size="31.15" fill="#000" stroke="#fff" stroke-width="0.3">,</text>
<text transform="translate(405.99 806.91) scale(1.007 1)" font-family="'DejaVu Serif','Liberation Serif',serif" font-style="italic" font-size="30.26" fill="#000" stroke="#fff" stroke-width="0.45">μ</text>
<text transform="translate(426.92 805.95) scale(0.745 1)" font-family="'Liberation Serif','DejaVu Serif',serif" font-size="34.08" fill="#000" stroke="#fff" stroke-width="0.45">)</text>
<text transform="translate(587.87 685.29) scale(1.288 1)" font-family="'DejaVu Math TeX Gyre','DejaVu Serif',serif" font-size="26.84" fill="#000" stroke="#000" stroke-width="0.1">ℬ</text>
<text transform="translate(613.19 685.75) scale(0.699 1)" font-family="'Liberation Serif','DejaVu Serif',serif" font-size="34.08" fill="#000" stroke="#fff" stroke-width="0.45">(</text>
<text transform="translate(621.14 684.77) scale(1.199 1)" font-family="'DejaVu Serif','Liberation Serif',serif" font-style="italic" font-size="26.52" fill="#000" stroke="#fff" stroke-width="0.45">τ</text>
<text transform="translate(641.09 686.21) scale(0.802 1)" font-family="'Liberation Serif','DejaVu Serif',serif" font-size="31.15" fill="#000" stroke="#fff" stroke-width="0.3">,</text>
<text transform="translate(652.69 686.71) scale(1.007 1)" font-family="'DejaVu Serif','Liberation Serif',serif" font-style="italic" font-size="30.26" fill="#000" stroke="#fff" stroke-width="0.45">μ</text>
<text transform="translate(673.27 685.75) scale(0.699 1)" font-family="'Liberation Serif','DejaVu Serif',serif" font-size="34.08" fill="#000" stroke="#fff" stroke-width="0.45">)</text>
<text transform="translate(683.87 675.29) scale(1.072 1)" font-family="'Liberation Serif','DejaVu Serif',serif" font-size="21.58" fill="#000">LO</text>
<text transform="translate(724.29 688.12) scale(1.412 1)" font-family="'Liberation Serif','DejaVu Serif',serif" font-size="32.00" fill="#000" stroke="#fff" stroke-width="0.15">=</text>
<text transform="translate(756.88 685.29) scale(1.194 1)" font-family="'DejaVu Math TeX Gyre','DejaVu Serif',serif" font-size="26.84" fill="#000" stroke="#000" stroke-width="0.1">ℬ</text>
<text transform="translate(765.96 668.67) scale(0.930 1)" font-family="'Liberation Serif','DejaVu Serif',serif" font-size="30.00" fill="#000">~</text>
<text transform="translate(780.91 690.40) scale(0.995 1)" font-family="'Liberation Serif','DejaVu Serif',serif" font-size="20.90" fill="#000">1</text>
<text transform="translate(792.79 685.75) scale(0.699 1)" font-family="'Liberation Serif','DejaVu Serif',serif" font-size="34.08" fill="#000" stroke="#fff" stroke-width="0.45">(</text>
<text transform="translate(799.92 684.77) scale(1.214 1)" font-family="'DejaVu Serif','Liberation Serif',serif" font-style="italic" font-size="26.52" fill="#000" stroke="#fff" stroke-width="0.45">τ</text>
<text transform="translate(821.25 685.75) scale(0.722 1)" font-family="'Liberation Serif','DejaVu Serif',serif" font-size="34.08" fill="#000" stroke="#fff" stroke-width="0.45">)</text>
<text transform="translate(587.87 735.89) scale(1.288 1)" font-family="'DejaVu Math TeX Gyre','DejaVu Serif',serif" font-size="26.84" fill="#000" stroke="#000" stroke-width="0.1">ℬ</text>
<text transform="translate(613.19 736.35) scale(0.699 1)" font-family="'Liberation Serif','DejaVu Serif',serif" font-size="34.08" fill="#000" stroke="#fff" stroke-width="0.45">(</text>
<text transform="translate(621.14 735.37) scale(1.199 1)" font-family="'DejaVu Serif','Liberation Serif',serif" font-style="italic" font-size="26.52" fill="#000" stroke="#fff" stroke-width="0.45">τ</text>
<text transform="translate(641.09 736.81) scale(0.802 1)" font-family="'Liberation Serif','DejaVu Serif',serif" font-size="31.15" fill="#000" stroke="#fff" stroke-width="0.3">,</text>
<text transform="translate(652.69 737.31) scale(1.007 1)" font-family="'DejaVu Serif','Liberation Serif',serif" font-style="italic" font-size="30.26" fill="#000" stroke="#fff" stroke-width="0.45">μ</text>
<text transform="translate(673.27 736.35) scale(0.699 1)" font-family="'Liberation Serif','DejaVu Serif',serif" font-size="34.08" fill="#000" stroke="#fff" stroke-width="0.45">)</text>
<text transform="translate(684.46 725.89) scale(1.093 1)" font-family="'Liberation Serif','DejaVu Serif',serif" font-size="21.58" fill="#000">NLO</text>
<text transform="translate(587.87 786.59) scale(1.288 1)" font-family="'DejaVu Math TeX Gyre','DejaVu Serif',serif" font-size="26.84" fill="#000" stroke="#000" stroke-width="0.1">ℬ</text>
<text transform="translate(613.19 787.05) scale(0.699 1)" font-family="'Liberation Serif','DejaVu Serif',serif" font-size="34.08" fill="#000" stroke="#fff" stroke-width="0.45">(</text>
<text transform="translate(621.14 786.07) scale(1.199 1)" font-family="'DejaVu Serif','Liberation Serif',serif" font-style="italic" font-size="26.52" fill="#000" stroke="#fff" stroke-width="0.45">τ</text>
<text transform="translate(641.09 787.51) scale(0.802 1)" font-family="'Liberation Serif','DejaVu Serif',serif" font-size="31.15" fill="#000" stroke="#fff" stroke-width="0.3">,</text>
<text transform="translate(652.69 788.01) scale(1.007 1)" font-family="'DejaVu Serif','Liberation Serif',serif" font-style="italic" font-size="30.26" fill="#000" stroke="#fff" stroke-width="0.45">μ</text>
<text transform="translate(673.27 787.05) scale(0.699 1)" font-family="'Liberation Serif','DejaVu Serif',serif" font-size="34.08" fill="#000" stroke="#fff" stroke-width="0.45">)</text>
<text transform="translate(684.47 776.59) scale(1.080 1)" font-family="'Liberation Serif','DejaVu Serif',serif" font-size="21.58" fill="#000">NNLO</text>
</svg>
</body></html>
